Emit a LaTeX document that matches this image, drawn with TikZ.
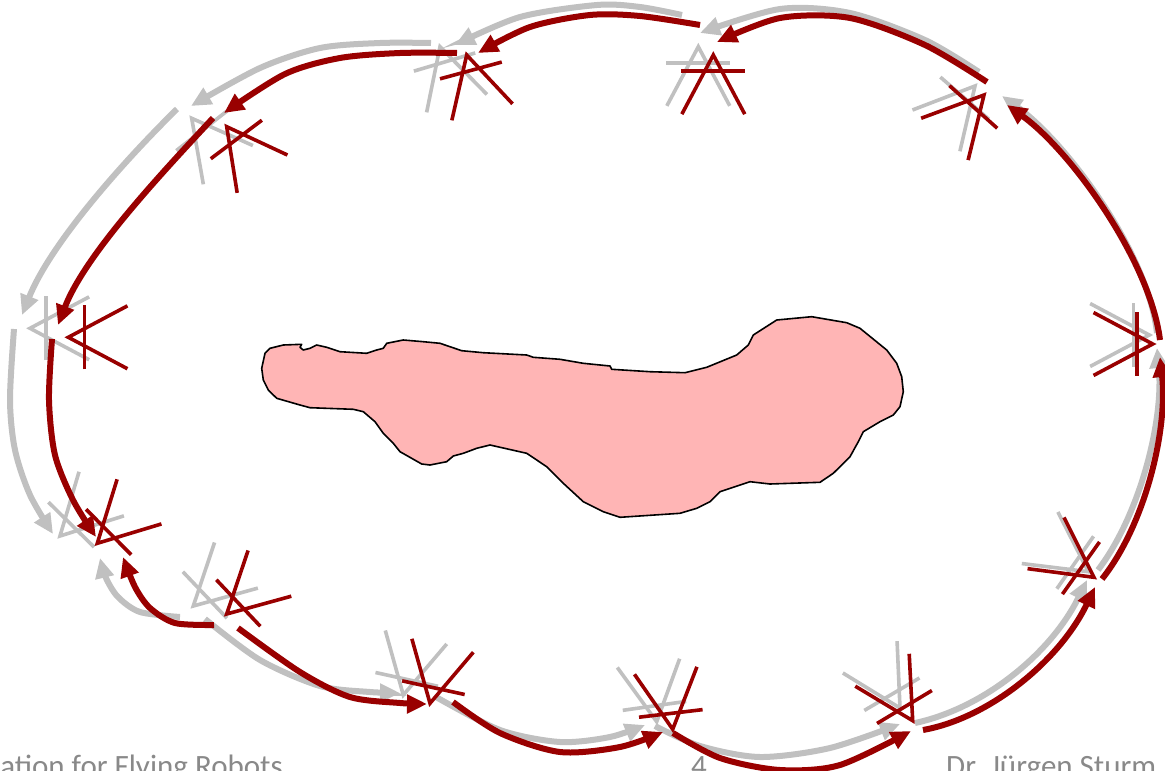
\documentclass[tikz,border=0pt]{standalone}
\usepackage{fontspec}
\setmainfont{Carlito}
\usetikzlibrary{arrows.meta,calc}
\definecolor{dred}{RGB}{153,0,0}
\definecolor{lgray}{RGB}{192,192,192}
\definecolor{blobpink}{RGB}{255,181,181}
\definecolor{txtgray}{RGB}{137,137,137}
\tikzset{
  gpose/.style={lgray, line width=3.6pt, line join=miter},
  rpose/.style={dred, line width=3.6pt, line join=miter},
  garrow/.style={lgray, line width=6pt, -{Triangle[length=20pt,width=18pt]}},
  rarrow/.style={dred, line width=6pt, -{Triangle[length=20pt,width=18pt]}},
  blob/.style={draw=black, line width=1.6pt, fill=blobpink, line join=round},
  foot/.style={text=txtgray, inner sep=0pt, font=\fontsize{31}{36}\selectfont},
}
\newcommand{\posemark}[4]{%
  \coordinate (#2) at (#3);
  \draw[#1] ($(#2)+(#4+28:67)$) -- (#2) -- ($(#2)+(#4-28:67)$);
  \draw[#1] ($(#2)+(#4:16)+(#4+90:32)$) -- ($(#2)+(#4:16)+(#4-90:32)$);
}
\begin{document}
\begin{tikzpicture}[x=1pt,y=-1pt]
\fill[white] (0,0) rectangle (1165,771);
\useasboundingbox (0,0) rectangle (1165,771);

% obstacle
\draw[blob] (261.7,368.3) -- (265,353.3) -- (270,348.3) -- (283.3,345) -- (301.7,344.3) -- (300,347.3) -- (303.3,350) -- (310,348.3) -- (316.7,345) -- (326.7,347.3) -- (340,351.7) -- (366.7,353.3) -- (376.7,350) -- (383.3,348.3) -- (386.7,343.3) -- (403.3,340) -- (423.3,341.7) -- (440,343.3) -- (450,346.7) -- (461.7,350.7) -- (483.3,352.7) -- (526.7,355) -- (533.3,357.3) -- (560,359.3) -- (583.3,363.3) -- (610,366) -- (611.7,369.3) -- (650,371.7) -- (685,372.7) -- (706.7,367.3) -- (736.7,355) -- (748.3,345) -- (753.3,335) -- (776.7,320) -- (811.7,316.7) -- (846.7,322.7) -- (860,328.3) -- (886.7,350) -- (896.7,363.3) -- (901.7,376.7) -- (903.3,391.7) -- (900,406.7) -- (893.3,415) -- (880,421.7) -- (863.3,431.7) -- (858.3,441.7) -- (850,456.7) -- (833.3,473.3) -- (820,482.3) -- (770,484) -- (750,481.7) -- (720,491.7) -- (710,501.7) -- (696.7,508.3) -- (680,513.3) -- (620,517.3) -- (603.3,511.7) -- (583.3,501.7) -- (563.3,483.3) -- (546.7,466.7) -- (526.7,453.3) -- (490,445) -- (476.7,448.3) -- (463.3,453.3) -- (453.3,456) -- (446.7,461.7) -- (430,465) -- (421.7,464) -- (400,451.7) -- (393.3,443.3) -- (383.3,433.3) -- (375,421.7) -- (363.3,411.7) -- (353.3,409.3) -- (310,407.7) -- (300,405) -- (276.7,398.3) -- (268.3,390) -- (263.3,380) -- cycle;

% ---------- gray (odometry) ----------
\coordinate (g1s) at (979,72);   \coordinate (g1e) at (700,33);
\coordinate (g2s) at (682,15);   \coordinate (g2e) at (455,45);
\coordinate (g3s) at (431,43);   \coordinate (g3e) at (191,106);
\coordinate (g4s) at (177,109);  \coordinate (g4e) at (22,315);
\coordinate (g5s) at (14,329);   \coordinate (g5e) at (53,534);
\coordinate (g6s) at (180,617);  \coordinate (g6e) at (100,558);
\coordinate (g7s) at (205,619);  \coordinate (g7e) at (400,693);
\coordinate (g8s) at (436,697);  \coordinate (g8e) at (645,725);
\coordinate (g9s) at (655,726);  \coordinate (g9e) at (900,724);
\coordinate (g10s) at (915,723); \coordinate (g10e) at (1087,580);
\coordinate (g11s) at (1098,570);\coordinate (g11e) at (1157,348);
\coordinate (g12s) at (1157,333);\coordinate (g12e) at (1002,96);

\draw[garrow] plot[smooth] coordinates {(g1s) (925,40) (850,13) (780,9) (g1e)};
\draw[garrow] plot[smooth] coordinates {(g2s) (640,7) (597,5) (520,17) (g2e)};
\draw[garrow] plot[smooth] coordinates {(g3s) (380,43) (320,48) (260,68) (g3e)};
\draw[garrow] (g4s) .. controls (120,165) and (50,245) .. (g4e);
\draw[garrow] plot[smooth] coordinates {(g5s) (10,400) (15,450) (30,495) (g5e)};
\draw[garrow] plot[smooth] coordinates {(g6s) (140,612) (118,597) (106,578) (g6e)};
\draw[garrow] plot[smooth] coordinates {(g7s) (260,660) (320,686) (370,692) (g7e)};
\draw[garrow] plot[smooth] coordinates {(g8s) (500,730) (560,742) (610,737) (g8e)};
\draw[garrow] plot[smooth] coordinates {(g9s) (700,746) (760,757) (830,748) (g9e)};
\draw[garrow] (g10s) .. controls (985,708) and (1052,652) .. (g10e);
\draw[garrow] (g11s) .. controls (1140,515) and (1164,420) .. (g11e);
\draw[garrow] (g12s) .. controls (1148,252) and (1066,142) .. (g12e);

\posemark{gpose}{gp7}{698.3,46.7}{90}
\posemark{gpose}{gp8}{440,46.7}{73.5}
\posemark{gpose}{gp9}{191.7,118.3}{52}
\posemark{gpose}{gp10}{30,328.3}{0}
\posemark{gpose}{gp11}{60,536}{-45.5}
\posemark{gpose}{gp0}{193.3,606}{-43.5}
\posemark{gpose}{gp1}{403.3,695}{-77.6}
\posemark{gpose}{gp2}{656.7,721.7}{-98}
\posemark{gpose}{gp3}{900,708}{-120.5}
\posemark{gpose}{gp4}{1088.3,571.7}{-145}
\posemark{gpose}{gp5}{1149.3,335}{180}
\posemark{gpose}{gp6}{975,86}{131}

% ---------- red (corrected) ----------
\coordinate (r1s) at (987,82);   \coordinate (r1e) at (717,42);
\coordinate (r2s) at (700,25);   \coordinate (r2e) at (478,53);
\coordinate (r3s) at (457,53);   \coordinate (r3e) at (224,113);
\coordinate (r4s) at (213,118);  \coordinate (r4e) at (58,325);
\coordinate (r5s) at (52,339);   \coordinate (r5e) at (96,537);
\coordinate (r6s) at (214,625);  \coordinate (r6e) at (123,557);
\coordinate (r7s) at (238,628);  \coordinate (r7e) at (427,704);
\coordinate (r8s) at (453,702);  \coordinate (r8e) at (663,732);
\coordinate (r9s) at (673,733);  \coordinate (r9e) at (911,731);
\coordinate (r10s) at (923,730); \coordinate (r10e) at (1095,587);
\coordinate (r11s) at (1102,579);\coordinate (r11e) at (1160,357);
\coordinate (r12s) at (1160,340);\coordinate (r12e) at (1007,105);

\draw[rarrow] plot[smooth] coordinates {(r1s) (925,45) (850,18) (780,18) (r1e)};
\draw[rarrow] plot[smooth] coordinates {(r2s) (640,16) (590,15) (530,27) (r2e)};
\draw[rarrow] plot[smooth] coordinates {(r3s) (400,53) (340,58) (285,74) (r3e)};
\draw[rarrow] (r4s) .. controls (160,175) and (85,255) .. (r4e);
\draw[rarrow] plot[smooth] coordinates {(r5s) (49,400) (55,455) (73,500) (r5e)};
\draw[rarrow] plot[smooth] coordinates {(r6s) (175,623) (150,608) (135,587) (r6e)};
\draw[rarrow] plot[smooth] coordinates {(r7s) (300,672) (350,697) (400,703) (r7e)};
\draw[rarrow] plot[smooth] coordinates {(r8s) (500,733) (560,752) (620,747) (r8e)};
\draw[rarrow] plot[smooth] coordinates {(r9s) (720,758) (780,770) (840,765) (r9e)};
\draw[rarrow] (r10s) .. controls (990,718) and (1060,660) .. (r10e);
\draw[rarrow] (r11s) .. controls (1145,525) and (1168,430) .. (r11e);
\draw[rarrow] (r12s) .. controls (1150,260) and (1070,150) .. (r12e);

\posemark{rpose}{rp7}{713.3,55}{90}
\posemark{rpose}{rp8}{466.7,55}{74.8}
\posemark{rpose}{rp9}{226.7,126.7}{53}
\posemark{rpose}{rp10}{68.3,337.3}{0}
\posemark{rpose}{rp11}{97.3,543.3}{-44.8}
\posemark{rpose}{rp0}{226.7,614}{-43.4}
\posemark{rpose}{rp1}{430,703.3}{-77.7}
\posemark{rpose}{rp2}{672.7,729.3}{-96.8}
\posemark{rpose}{rp3}{912.7,720.7}{-121}
\posemark{rpose}{rp4}{1094,577.3}{-144.6}
\posemark{rpose}{rp5}{1152.7,344}{180}
\posemark{rpose}{rp6}{984,95}{131.7}

% ---------- footer ----------
\node[foot, anchor=base east] (footl) at (283,776) {ation for Flying Robots};
\node[foot, anchor=base] (footc) at (699,776) {4};
\node[foot, anchor=base west] (footr) at (946,776) {Dr. Jürgen Sturm};
\end{tikzpicture}
\end{document}
